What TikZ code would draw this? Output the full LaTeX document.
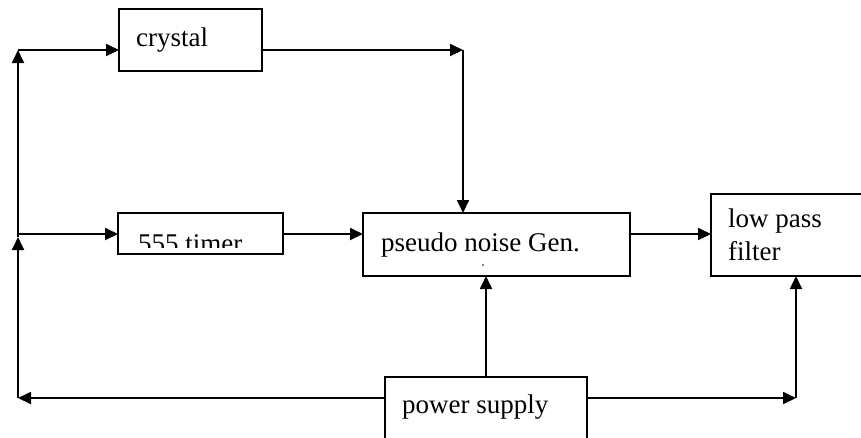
\documentclass[tikz,border=0pt]{standalone}
\usepackage{fontspec}
\setmainfont{Liberation Serif}
\usetikzlibrary{arrows.meta}
\begin{document}
\begin{tikzpicture}[x=1pt,y=-1pt,
  box/.style={draw,line width=1.8pt,inner sep=0pt,outer sep=0pt,anchor=north west},
  lbl/.style={inner sep=0pt,anchor=base west,font=\fontsize{27}{32}\selectfont},
  wire/.style={line width=1.8pt},
  arr/.style={wire,-{Triangle[length=13pt,width=12pt]}}]
\clip (0,0) rectangle (861,437);
\fill[white] (0,0) rectangle (861,437);
% boxes
\node[box,minimum width=143pt,minimum height=62pt] (crystal) at (119,9) {};
\node[box,minimum width=165pt,minimum height=41pt] (timer) at (118,213) {};
\node[box,minimum width=267pt,minimum height=63pt] (pseudo) at (363,213) {};
\node[box,minimum width=170pt,minimum height=82pt] (lp) at (711,194) {};
\node[box,minimum width=202pt,minimum height=80pt] (ps) at (385,377) {};
% texts
\node[lbl] (crystal-t) at (136,46) {crystal};
\begin{scope}
  \clip (118,213) rectangle (283,247);
  \node[lbl] (timer-t) at (138,252) {555 timer};
\end{scope}
\node[lbl] (pseudo-t) at (381,251) {pseudo noise Gen.};
\node[lbl] (lp-t1) at (728,227) {low pass};
\node[lbl] (lp-t2) at (728,260) {filter};
\node[lbl] (ps-t) at (402,413) {power supply};
\node[circle,fill,inner sep=0pt,minimum size=1.8pt] (dot) at (483,265) {};
% junction coordinates
\coordinate (cTR) at (463,50);
\coordinate (lTop) at (18,50);
\coordinate (lMid) at (18,234);
\coordinate (lMidA) at (18,237);
\coordinate (lBot) at (18,398);
\coordinate (rBot) at (796,398);
\coordinate (psv) at (486,377);
% connectors
\draw[arr] (lTop) -- (lTop -| crystal.west);
\draw[arr] (crystal.east |- cTR) -- (cTR);
\draw[arr] (cTR) -- (cTR |- pseudo.north);
\draw[arr] (lBot) -- (lMidA);
\draw[arr] (lMidA) -- (lTop);
\draw[arr] (lMid) -- (lMid -| timer.west);
\draw[arr] (lMid -| timer.east) -- (lMid -| pseudo.west);
\draw[arr] (lMid -| pseudo.east) -- (lMid -| lp.west);
\draw[arr] (psv |- ps.north) -- (psv |- pseudo.south);
\draw[arr] (lBot -| ps.west) -- (lBot);
\draw[arr] (rBot -| ps.east) -- (rBot);
\draw[arr] (rBot) -- (rBot |- lp.south);
\end{tikzpicture}
\end{document}
